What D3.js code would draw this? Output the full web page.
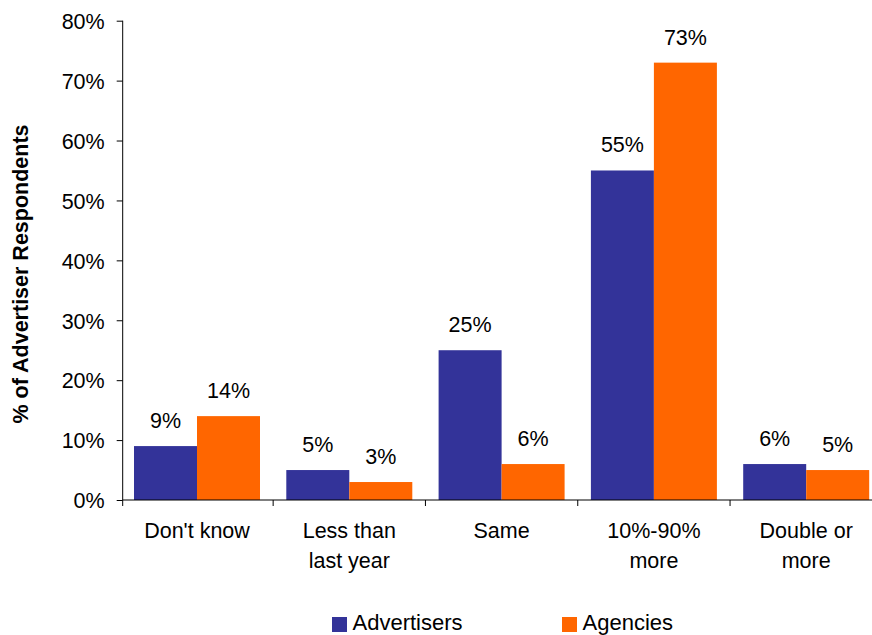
<!DOCTYPE html>
<html>
<head>
<meta charset="utf-8">
<script src="https://cdn.jsdelivr.net/npm/d3@7"></script>
<style>
  html, body { margin: 0; padding: 0; background: #fff; }
  svg { display: block; font-family: "Liberation Sans", Arial, sans-serif; }
</style>
</head>
<body>
<svg id="chart" width="872" height="635"></svg>
<script>
// Spend expectations by respondent group
const categories = [["Don't know"], ["Less than", "last year"], ["Same"], ["10%-90%", "more"], ["Double or", "more"]];
const seriesNames = ["Advertisers", "Agencies"];
const advertisers = [9, 5, 25, 55, 6];
const agencies = [14, 3, 6, 73, 5];
const yTicks = [0, 10, 20, 30, 40, 50, 60, 70, 80];
const colors = ["#333399", "#FF6600"];

const svg = d3.select("#chart");
const keys = categories.map(c => c.join(" "));
const plotLeft = 122.7, plotBottom = 500, plotTop = 20.7;
const groupStep = 152.3, pIn = 0.1727, pOut = 0.0788;

const x = d3.scaleBand().domain(keys)
  .range([plotLeft - 0.7, plotLeft - 0.7 + groupStep * (keys.length - pIn + 2 * pOut)])
  .paddingInner(pIn).paddingOuter(pOut);
const xs = d3.scaleBand().domain(seriesNames).range([0, x.bandwidth()]);
const y = d3.scaleLinear().domain([0, 80]).range([plotBottom, plotTop]);
const halfGap = x.step() * pIn / 2;

// bars and value labels
const series = [advertisers, agencies];
series.forEach((vals, si) => {
  svg.append("g").selectAll("rect").data(vals).join("rect")
    .attr("x", (d, i) => x(keys[i]) + xs(seriesNames[si]))
    .attr("width", xs.bandwidth())
    .attr("y", d => y(d))
    .attr("height", d => y(0) - y(d))
    .attr("fill", colors[si]);
  svg.append("g").selectAll("text").data(vals).join("text")
    .attr("x", (d, i) => x(keys[i]) + xs(seriesNames[si]) + xs.bandwidth() / 2)
    .attr("y", d => y(d) - 18)
    .attr("text-anchor", "middle")
    .attr("font-size", 21.5)
    .attr("fill", "#000")
    .text(d => d + "%");
});

// y axis
const yAxis = d3.axisLeft(y).tickValues(yTicks).tickFormat(d => d + "%").tickSize(6).tickPadding(12);
const gy = svg.append("g").attr("transform", `translate(${plotLeft},0)`).call(yAxis);
gy.select(".domain").attr("stroke", "#000").attr("d", `M0,${plotBottom}V${plotTop}`);
gy.selectAll(".tick line").attr("stroke", "#000");
gy.selectAll(".tick text").attr("font-size", 21.5).attr("font-family", "Liberation Sans, Arial, sans-serif").attr("fill", "#000").attr("dy", "0.36em");

// x axis line with group boundary ticks
svg.append("line").attr("x1", plotLeft).attr("x2", 872).attr("y1", plotBottom).attr("y2", plotBottom).attr("stroke", "#000");
const bounds = keys.map(k => x(k) - halfGap).concat([x(keys[keys.length - 1]) + x.bandwidth() + halfGap]);
bounds[0] = plotLeft;
svg.append("g").selectAll("line").data(bounds).join("line")
  .attr("x1", d => d).attr("x2", d => d).attr("y1", plotBottom).attr("y2", plotBottom + 6).attr("stroke", "#000");

// category labels
categories.forEach((lines, i) => {
  const cx = x(keys[i]) + x.bandwidth() / 2;
  const t = svg.append("text")
    .attr("x", cx)
    .attr("y", 538)
    .attr("text-anchor", "middle")
    .attr("font-size", 21.5)
    .attr("fill", "#000");
  lines.forEach((ln, j) => {
    t.append("tspan").attr("x", cx).attr("dy", j === 0 ? 0 : 30).text(ln);
  });
});

// y axis title
svg.append("text")
  .attr("transform", "translate(28,274) rotate(-90)")
  .attr("text-anchor", "middle")
  .attr("font-size", 21.5)
  .attr("font-weight", "bold")
  .attr("fill", "#000")
  .text("% of Advertiser Respondents");

// legend
const legendX = [332, 562];
seriesNames.forEach((name, i) => {
  svg.append("rect").attr("x", legendX[i]).attr("y", 617).attr("width", 15).attr("height", 15).attr("fill", colors[i]);
  svg.append("text").attr("x", legendX[i] + 20.5).attr("y", 630).attr("font-size", 22).attr("fill", "#000").text(name);
});
</script>
</body>
</html>
